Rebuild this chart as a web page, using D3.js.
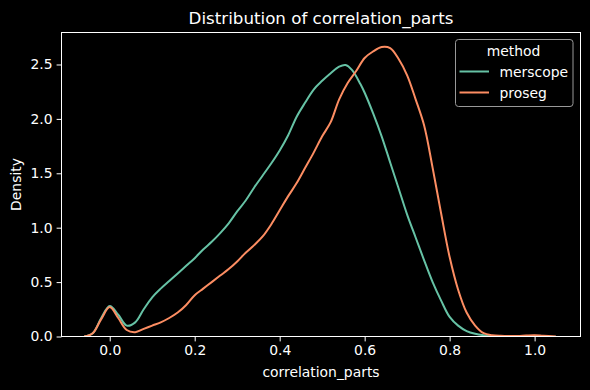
<!DOCTYPE html>
<html>
<head>
<meta charset="utf-8">
<script src="https://cdn.jsdelivr.net/npm/d3@7"></script>
<style>
  body { margin: 0; background: #000; }
  svg { display: block; font-family: "DejaVu Sans", sans-serif; }
</style>
</head>
<body>
<div id="chart"></div>
<script>
// values
const methods = ["merscope", "proseg"];
const colors = ["#66c2a5", "#fc8d62"];

const merscopeX = [-0.06, -0.04, -0.02, 0.00, 0.02, 0.04, 0.06, 0.08, 0.10, 0.12, 0.14, 0.16, 0.18,
  0.20, 0.22, 0.24, 0.26, 0.28, 0.30, 0.32, 0.34, 0.36, 0.38, 0.40, 0.42, 0.44, 0.46, 0.48,
  0.50, 0.52, 0.54, 0.555, 0.57, 0.59, 0.60, 0.62, 0.64, 0.66, 0.68, 0.70, 0.72, 0.74, 0.76, 0.78,
  0.80, 0.82, 0.84, 0.86, 0.88, 0.90, 0.93];
const merscopeY = [0.0, 0.03, 0.17, 0.28, 0.20, 0.10, 0.13, 0.25, 0.36, 0.44, 0.51, 0.58, 0.65,
  0.72, 0.80, 0.87, 0.95, 1.04, 1.15, 1.25, 1.37, 1.48, 1.59, 1.71, 1.85, 2.02, 2.15, 2.27,
  2.35, 2.42, 2.48, 2.495, 2.45, 2.32, 2.24, 2.05, 1.84, 1.60, 1.36, 1.12, 0.91, 0.70, 0.50, 0.33,
  0.18, 0.10, 0.05, 0.025, 0.012, 0.005, 0.0];

const prosegX = [-0.06, -0.04, -0.02, 0.00, 0.02, 0.04, 0.06, 0.08, 0.10, 0.12, 0.14, 0.16, 0.18,
  0.20, 0.22, 0.24, 0.26, 0.28, 0.30, 0.32, 0.34, 0.36, 0.38, 0.40, 0.42, 0.44, 0.46, 0.48,
  0.50, 0.52, 0.54, 0.56, 0.58, 0.60, 0.62, 0.64, 0.66, 0.68, 0.70, 0.72, 0.74, 0.76, 0.78,
  0.80, 0.82, 0.84, 0.86, 0.88, 0.90, 0.92, 0.94, 0.96, 0.98, 1.00, 1.02, 1.05];
const prosegY = [0.0, 0.03, 0.16, 0.27, 0.17, 0.06, 0.04, 0.07, 0.10, 0.13, 0.17, 0.22, 0.29,
  0.38, 0.44, 0.50, 0.56, 0.62, 0.69, 0.77, 0.84, 0.92, 1.03, 1.16, 1.29, 1.41, 1.55, 1.69,
  1.84, 1.97, 2.18, 2.33, 2.44, 2.56, 2.62, 2.66, 2.65, 2.55, 2.40, 2.18, 1.94, 1.55, 1.13,
  0.73, 0.43, 0.22, 0.10, 0.03, 0.012, 0.006, 0.004, 0.005, 0.009, 0.012, 0.007, 0.0];

const xTicks = [0.0, 0.2, 0.4, 0.6, 0.8, 1.0];
const yTicks = [0.0, 0.5, 1.0, 1.5, 2.0, 2.5];

const series = [
  { name: methods[0], xs: merscopeX, ys: merscopeY, color: colors[0] },
  { name: methods[1], xs: prosegX, ys: prosegY, color: colors[1] }
];

const width = 590, height = 390;
const margin = { top: 32.5, right: 9.5, bottom: 53.5, left: 61.5 };
const innerWidth = width - margin.left - margin.right;
const innerHeight = height - margin.top - margin.bottom;

const svg = d3.select("#chart").append("svg")
  .attr("width", width)
  .attr("height", height)
  .style("background", "#000");

svg.append("clipPath").attr("id", "plot-clip")
  .append("rect")
  .attr("width", innerWidth)
  .attr("height", innerHeight);

const g = svg.append("g")
  .attr("transform", `translate(${margin.left},${margin.top})`);

const x = d3.scaleLinear().domain([-0.1135, 1.108]).range([0, innerWidth]);
const y = d3.scaleLinear().domain([0, 2.794]).range([innerHeight, 0]);

// axes
const xAxis = g.append("g")
  .attr("transform", `translate(0,${innerHeight})`)
  .call(d3.axisBottom(x).tickValues(xTicks).tickFormat(d3.format(".1f")).tickSize(4.9).tickPadding(4));
const yAxis = g.append("g")
  .call(d3.axisLeft(y).tickValues(yTicks).tickFormat(d3.format(".1f")).tickSize(4.9).tickPadding(4));

[xAxis, yAxis].forEach(a => {
  a.select(".domain").remove();
  a.selectAll("line").attr("stroke", "#fff").attr("stroke-width", 1);
  a.selectAll("text").attr("fill", "#fff").attr("font-size", 13.9)
    .attr("font-family", "DejaVu Sans");
});

// density lines
const line = d3.line()
  .x(d => x(d[0]))
  .y(d => y(d[1]))
  .curve(d3.curveCatmullRom.alpha(0.5));

const lines = g.append("g").attr("clip-path", "url(#plot-clip)");
series.forEach(s => {
  lines.append("path")
    .datum(s.xs.map((v, i) => [v, s.ys[i]]))
    .attr("fill", "none")
    .attr("stroke", s.color)
    .attr("stroke-width", 2)
    .attr("stroke-linejoin", "round")
    .attr("d", line);
});

// frame
g.append("rect")
  .attr("width", innerWidth)
  .attr("height", innerHeight)
  .attr("fill", "none")
  .attr("stroke", "#fff")
  .attr("stroke-width", 1);

// title and labels
svg.append("text")
  .attr("x", margin.left + innerWidth / 2)
  .attr("y", 24)
  .attr("text-anchor", "middle")
  .attr("fill", "#fff")
  .attr("font-size", 16.7)
  .text("Distribution of correlation_parts");

svg.append("text")
  .attr("x", margin.left + innerWidth / 2)
  .attr("y", 377)
  .attr("text-anchor", "middle")
  .attr("fill", "#fff")
  .attr("font-size", 13.9)
  .text("correlation_parts");

svg.append("text")
  .attr("transform", `translate(21,${margin.top + innerHeight / 2}) rotate(-90)`)
  .attr("text-anchor", "middle")
  .attr("fill", "#fff")
  .attr("font-size", 13.9)
  .text("Density");

// legend
const legend = svg.append("g").attr("transform", "translate(455.5,39.5)");
legend.append("rect")
  .attr("width", 117.5)
  .attr("height", 67)
  .attr("rx", 3)
  .attr("fill", "#000")
  .attr("stroke", "#999")
  .attr("stroke-width", 1);
legend.append("text")
  .attr("x", 58)
  .attr("y", 16)
  .attr("text-anchor", "middle")
  .attr("fill", "#fff")
  .attr("font-size", 13.9)
  .text("method");
series.forEach((s, i) => {
  const yy = 32 + i * 21;
  legend.append("line")
    .attr("x1", 4).attr("x2", 33.5)
    .attr("y1", yy).attr("y2", yy)
    .attr("stroke", s.color)
    .attr("stroke-width", 2);
  legend.append("text")
    .attr("x", 44)
    .attr("y", yy + 5)
    .attr("fill", "#fff")
    .attr("font-size", 13.9)
    .text(s.name);
});
</script>
</body>
</html>
